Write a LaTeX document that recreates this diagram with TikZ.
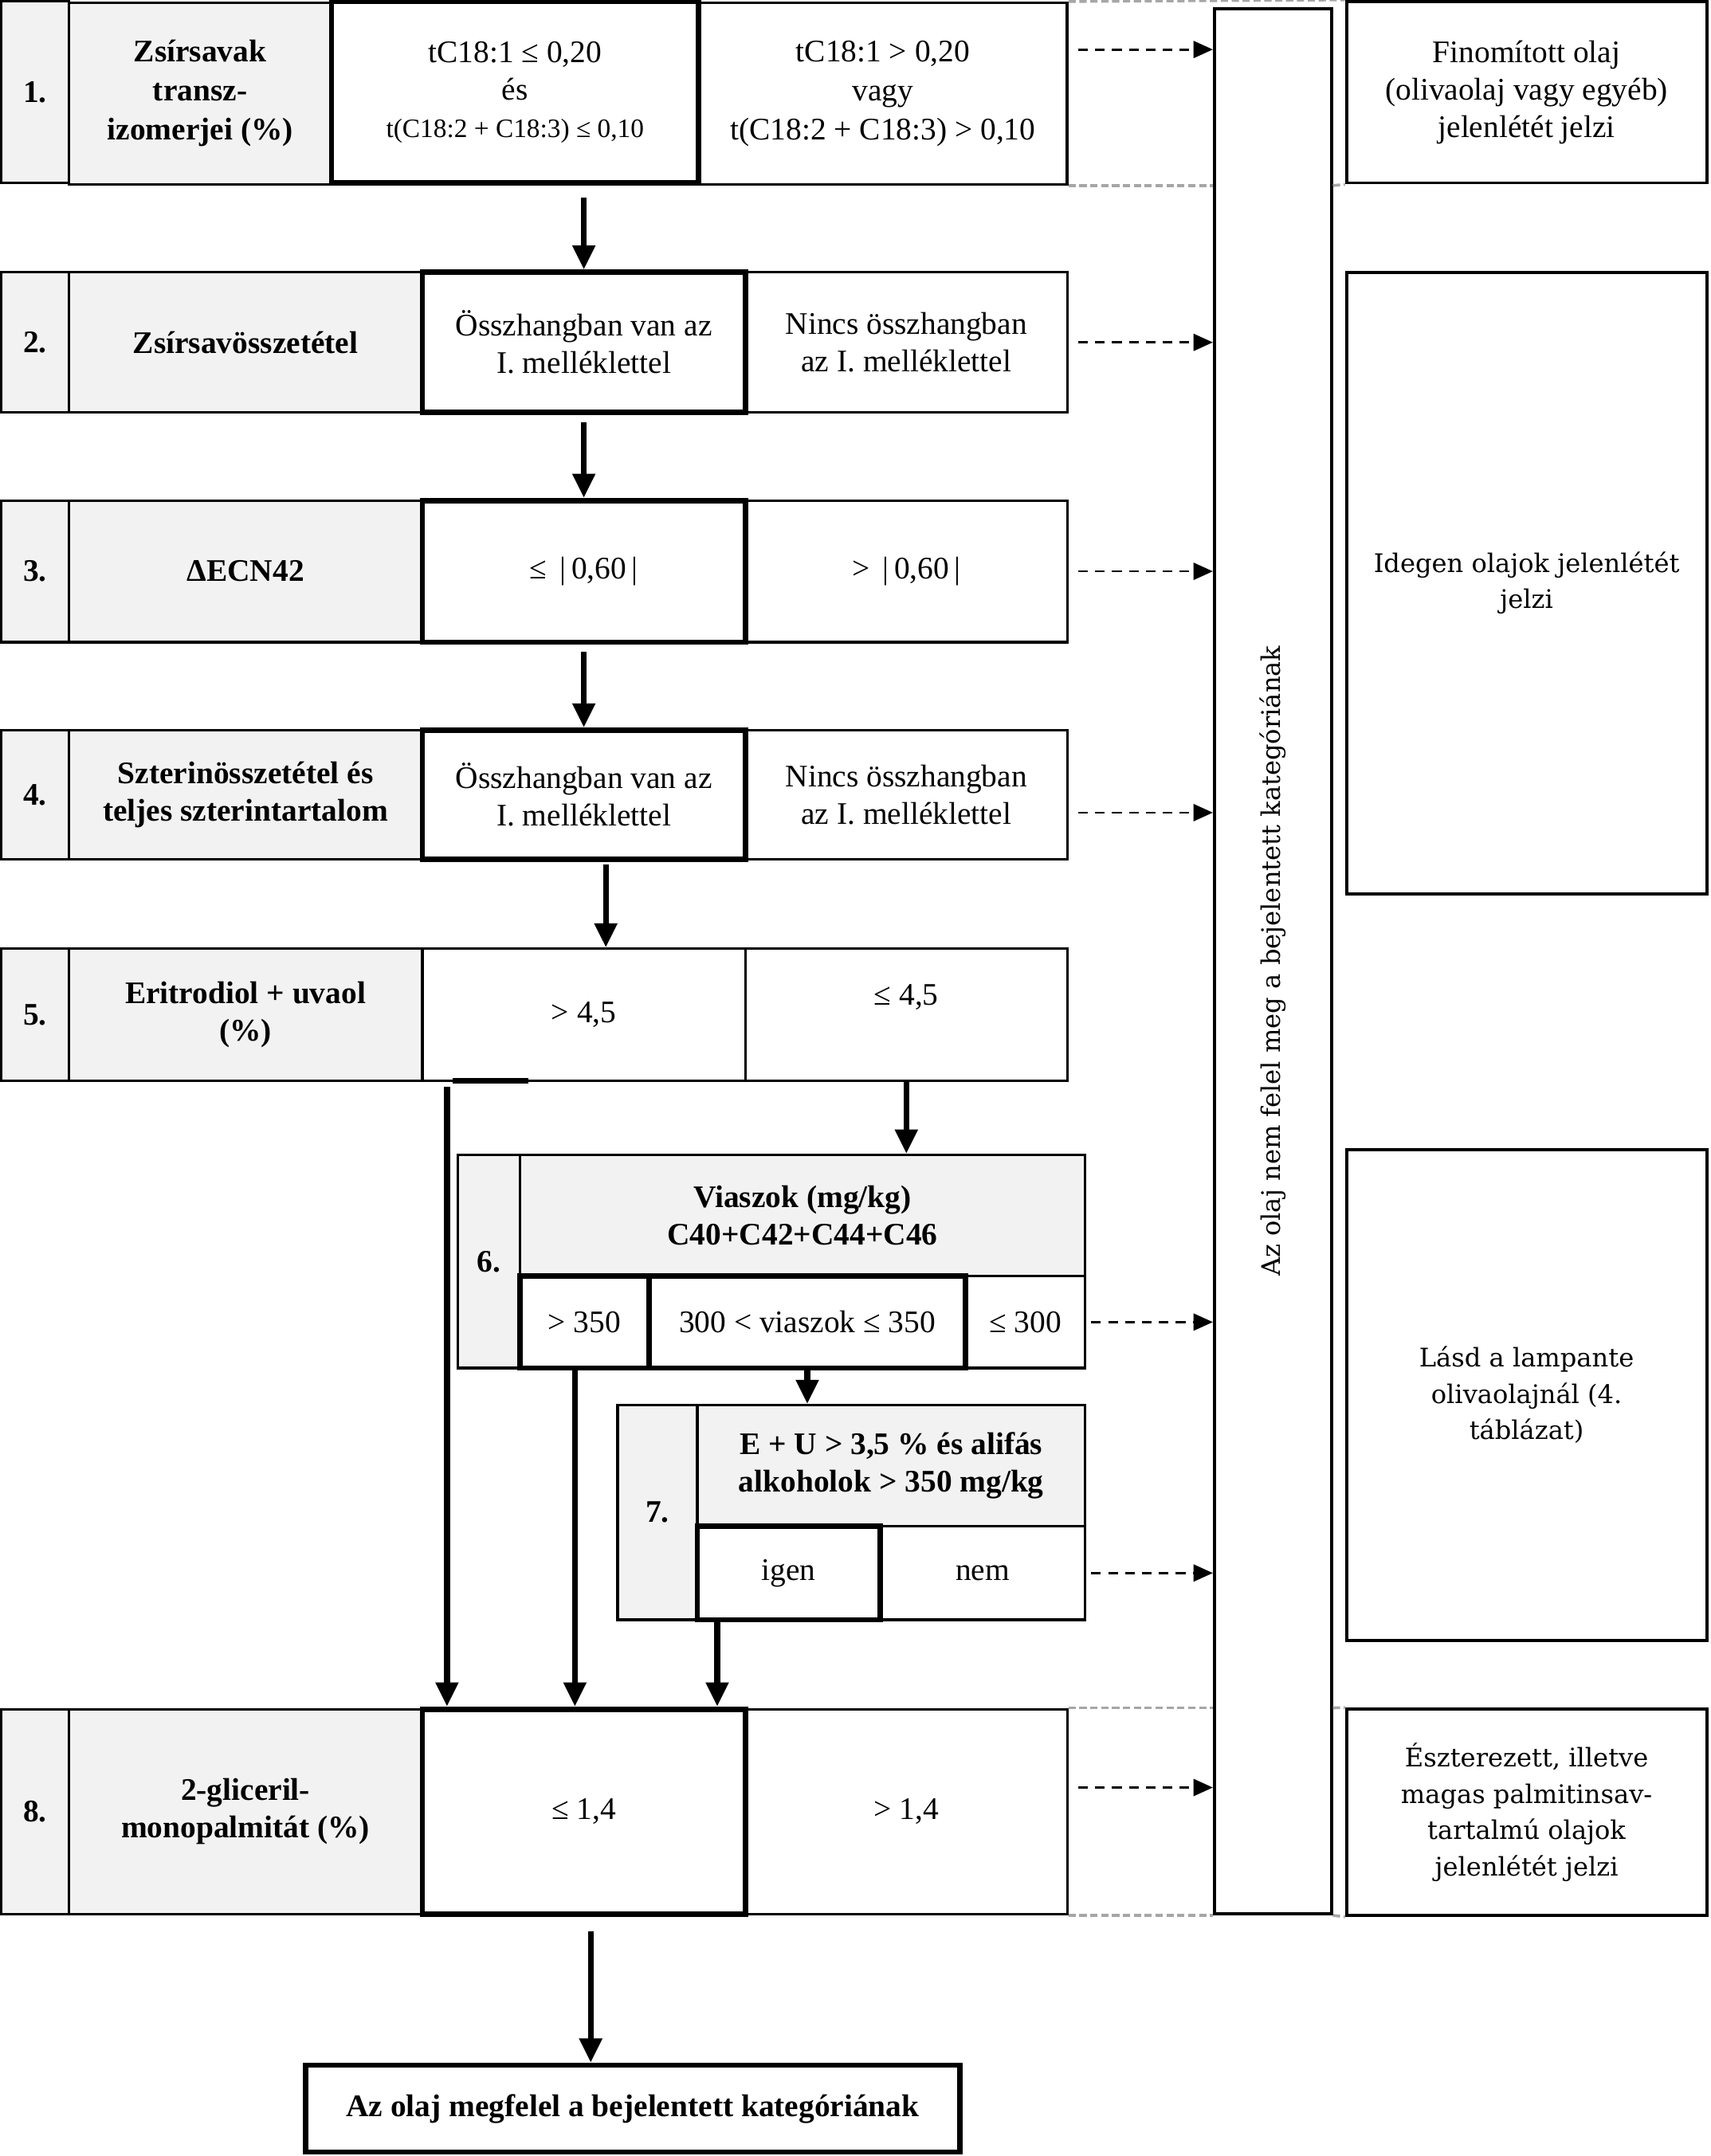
\documentclass[tikz,border=0pt]{standalone}
\usepackage{fontspec}
\setmainfont{Liberation Serif}
\newfontfamily\widefont{DejaVu Serif}
\usetikzlibrary{arrows.meta}

\begin{document}
\begin{tikzpicture}[x=0.02cm, y=-0.02cm, >={Triangle[length=10pt,width=9pt]}, font=\fontsize{13}{15.5}\selectfont,
  cellbox/.style={draw, line width=1.1pt, inner sep=0pt, align=center},
  labbox/.style={cellbox, fill=black!5, font=\fontsize{13}{15.5}\selectfont\bfseries},
  okbox/.style={cellbox, line width=2.2pt},
  notebox/.style={draw, line width=1.3pt, inner sep=0pt, align=center, font=\widefont\fontsize{10.6}{15}\selectfont},
  flowarr/.style={->, line width=2.4pt},
  failarr/.style={-{Triangle[length=8pt,width=7pt]}, line width=0.9pt, dash pattern=on 4pt off 3pt, shorten <=4pt},
  edgeline/.style={black!35, line width=1.2pt, dash pattern=on 3pt off 1.5pt}]
\useasboundingbox (0,0) rectangle (1244,1568);

% 1.
\begin{scope}[every node/.append style={minimum height=2.64cm}]
\node[labbox, minimum width=0.98cm] (n1) at (25.5,67) {1.};
\node[labbox, minimum width=3.82cm, font=\fontsize{13}{16.2}\selectfont\bfseries] (l1) at (145.5,68) {Zsírsavak\\transz-\\izomerjei (\%)};
\node[cellbox, minimum width=5.36cm, font=\fontsize{13}{16.2}\selectfont] (no1) at (642,68) {tC18:1 > 0,20\\vagy\\t(C18:2 + C18:3) > 0,10};
\node[okbox, minimum width=5.34cm, font=\fontsize{13}{15.5}\selectfont] (ok1) at (374.5,67) {tC18:1 ≤ 0,20\\és\\{\fontsize{11}{13}\selectfont t(C18:2 + C18:3) ≤ 0,10}};
\end{scope}

% 2.
\begin{scope}[every node/.append style={minimum height=2.04cm}]
\node[labbox, minimum width=0.98cm] (n2) at (25.5,249) {2.};
\node[labbox, minimum width=5.14cm] (l2) at (178.5,249) {Zsírsavösszetétel};
\node[cellbox, minimum width=4.68cm] (no2) at (659,249) {Nincs összhangban\\az I. melléklettel};
\node[okbox, minimum width=4.70cm] (ok2) at (424.5,249) {Összhangban van az\\I. melléklettel};
\end{scope}

% 3.
\begin{scope}[every node/.append style={minimum height=2.06cm}]
\node[labbox, minimum width=0.98cm] (n3) at (25.5,415.5) {3.};
\node[labbox, minimum width=5.14cm] (l3) at (178.5,415.5) {ΔECN42};
\node[cellbox, minimum width=4.68cm] (no3) at (659,415.5) {> \,|\,0,60\,|};
\node[okbox, minimum width=4.70cm] (ok3) at (424.5,415.5) {≤ \,|\,0,60\,|};
\end{scope}

% 4.
\begin{scope}[every node/.append style={minimum height=1.88cm}]
\node[labbox, minimum width=0.98cm] (n4) at (25.5,578) {4.};
\node[labbox, minimum width=5.14cm] (l4) at (178.5,578) {Szterinösszetétel és\\teljes szterintartalom};
\node[cellbox, minimum width=4.68cm] (no4) at (659,578) {Nincs összhangban\\az I. melléklettel};
\node[okbox, minimum width=4.70cm] (ok4) at (424.5,578) {Összhangban van az\\I. melléklettel};
\end{scope}

% 5.
\begin{scope}[every node/.append style={minimum height=1.92cm}]
\node[labbox, minimum width=0.98cm] (n5) at (25.5,738) {5.};
\node[labbox, minimum width=5.14cm] (l5) at (178.5,738) {Eritrodiol + uvaol\\(\%)};
\node[cellbox, minimum width=4.68cm] (no5) at (659,738) {};
\node[cellbox, minimum width=4.70cm] (ok5) at (424.5,738) {> 4,5};
\end{scope}
\node (no5txt) at (659,725) {≤ 4,5};
\draw[line width=2.2pt] (329,786) -- (384,786);

% 6.
\node[labbox, minimum width=0.9cm, minimum height=3.10cm] (n6) at (355.5,917.5) {6.};
\node[labbox, minimum width=8.22cm, minimum height=1.76cm] (h6) at (583.5,884) {Viaszok (mg/kg)\\C40+C42+C44+C46};
\begin{scope}[every node/.append style={minimum height=1.34cm}]
\node[cellbox, minimum width=1.74cm] (c6) at (745.5,961.5) {≤ 300};
\node[okbox, minimum width=1.88cm] (a6) at (425,961.5) {> 350};
\node[okbox, minimum width=4.60cm] (b6) at (587,961.5) {300 < viaszok ≤ 350};
\end{scope}

% 7.
\node[labbox, minimum width=1.16cm, minimum height=3.12cm] (n7) at (478,1100) {7.};
\node[labbox, minimum width=5.64cm, minimum height=1.76cm] (h7) at (648,1066) {E + U > 3,5 \% és alifás\\alkoholok > 350 mg/kg};
\begin{scope}[every node/.append style={minimum height=1.36cm}]
\node[cellbox, minimum width=2.98cm] (nem7) at (714.5,1144) {nem};
\node[okbox, minimum width=2.66cm] (igen7) at (573.5,1144) {igen};
\end{scope}

% 8.
\begin{scope}[every node/.append style={minimum height=2.98cm}]
\node[labbox, minimum width=0.98cm] (n8) at (25.5,1317.5) {8.};
\node[labbox, minimum width=5.14cm] (l8) at (178.5,1317.5) {2-gliceril-\\monopalmitát (\%)};
\node[cellbox, minimum width=4.68cm] (no8) at (659,1317.5) {> 1,4};
\node[okbox, minimum width=4.70cm] (ok8) at (424.5,1317.5) {≤ 1,4};
\end{scope}

\node[okbox, minimum width=9.52cm, minimum height=1.26cm, font=\fontsize{13}{15.5}\selectfont\bfseries] (fin) at (460,1533.5) {Az olaj megfelel a bejelentett kategóriának};

% right side
\node[notebox, rotate=90, minimum width=27.72cm, minimum height=1.70cm] (tall) at (925.5,699) {Az olaj nem felel meg a bejelentett kategóriának};
\node[notebox, minimum width=5.24cm, minimum height=2.64cm, font=\fontsize{13}{15.5}\selectfont] (r1) at (1110,67) {Finomított olaj\\(olivaolaj vagy egyéb)\\jelenlétét jelzi};
\node[notebox, minimum width=5.24cm, minimum height=9.04cm] (r2) at (1110,424) {Idegen olajok jelenlétét\\jelzi};
\node[notebox, minimum width=5.24cm, minimum height=7.14cm] (r3) at (1110,1014.5) {Lásd a lampante\\olivaolajnál (4.\\táblázat)};
\node[notebox, minimum width=5.24cm, minimum height=3.0cm] (r4) at (1110,1318) {Észterezett, illetve\\magas palmitinsav-\\tartalmú olajok\\jelenlétét jelzi};

% table edges
\draw[edgeline] (no1.north east) -- (r1.north west);
\draw[edgeline] (no1.south east) -- (no1.south east -| tall.north);
\draw[edgeline] (no1.south east -| tall.south) -- (r1.south west);
\draw[edgeline] (no8.north east) -- (no8.north east -| tall.north);
\draw[edgeline] (no8.north east -| tall.south) -- (r4.north west);
\draw[edgeline] (no8.south east) -- (no8.south east -| tall.north);
\draw[edgeline] (no8.south east -| tall.south) -- (r4.south west);

% yes path
\draw[flowarr, shorten <=5pt] (ok1.south -| ok2.north) -- (ok2.north);
\draw[flowarr, shorten <=3pt] (ok2.south) -- (ok3.north);
\draw[flowarr, shorten <=3pt] (ok3.south) -- (ok4.north);
\draw[flowarr, shorten <=1pt] ([xshift=0.32cm]ok4.south) -- ([xshift=0.32cm]ok5.north);
\draw[flowarr, shorten <=2pt] ([xshift=-1.99cm]ok5.south) -- ([xshift=-1.99cm]ok8.north);
\draw[flowarr] (no5.south) -- (no5.south |- h6.north);
\draw[flowarr] ([xshift=-0.14cm]a6.south) -- ([xshift=-0.14cm]a6.south |- ok8.north);
\draw[flowarr] (b6.south) -- (b6.south |- h7.north);
\draw[flowarr] ([xshift=-1.04cm]igen7.south) -- ([xshift=-1.04cm]igen7.south |- ok8.north);
\draw[flowarr, shorten <=6pt] ([xshift=0.1cm]ok8.south) -- ([xshift=0.1cm]ok8.south |- fin.north);

% no path
\draw[failarr] ([yshift=0.64cm]no1.east) -- ([yshift=0.64cm]no1.east -| tall.north);
\draw[failarr] (no2.east) -- (no2.east -| tall.north);
\draw[failarr] (no3.east) -- (no3.east -| tall.north);
\draw[failarr] ([yshift=-0.26cm]no4.east) -- ([yshift=-0.26cm]no4.east -| tall.north);
\draw[failarr, shorten <=2pt] (c6.east) -- (c6.east -| tall.north);
\draw[failarr, shorten <=2pt] (nem7.east) -- (nem7.east -| tall.north);
\draw[failarr] ([yshift=0.35cm]no8.east) -- ([yshift=0.35cm]no8.east -| tall.north);

\end{tikzpicture}
\end{document}
